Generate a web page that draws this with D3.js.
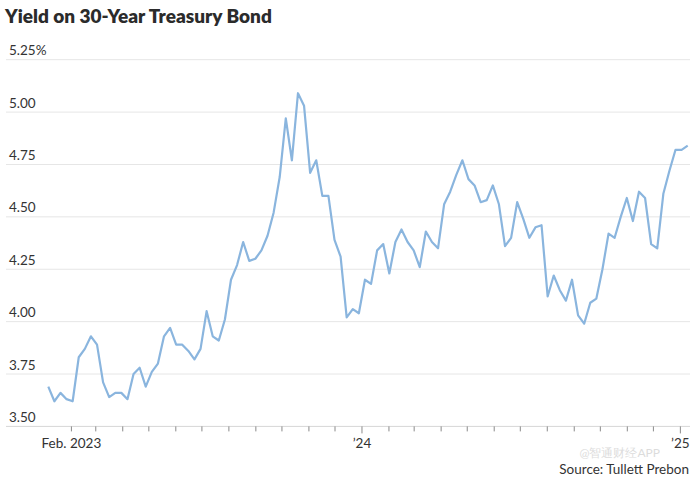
<!DOCTYPE html>
<html>
<head>
<meta charset="utf-8">
<script src="https://cdn.jsdelivr.net/npm/d3@7"></script>
<style>
  html, body { margin: 0; padding: 0; background: #fff; }
  svg { display: block; }
  text { font-family: Lato, "Open Sans", sans-serif; }
</style>
</head>
<body>
<svg id="chart" width="696" height="484"></svg>
<script>
// ---- DATA ----
const weeks = [
  "2023-01-06","2023-01-13","2023-01-20","2023-01-27",
  "2023-02-03","2023-02-10","2023-02-17","2023-02-24",
  "2023-03-03","2023-03-10","2023-03-17","2023-03-24","2023-03-31",
  "2023-04-07","2023-04-14","2023-04-21","2023-04-28",
  "2023-05-05","2023-05-12","2023-05-19","2023-05-26",
  "2023-06-02","2023-06-09","2023-06-16","2023-06-23","2023-06-30",
  "2023-07-07","2023-07-14","2023-07-21","2023-07-28",
  "2023-08-04","2023-08-11","2023-08-18","2023-08-25",
  "2023-09-01","2023-09-08","2023-09-15","2023-09-22","2023-09-29",
  "2023-10-06","2023-10-13","2023-10-20","2023-10-27",
  "2023-11-03","2023-11-10","2023-11-17","2023-11-24",
  "2023-12-01","2023-12-08","2023-12-15","2023-12-22","2023-12-29",
  "2024-01-05","2024-01-12","2024-01-19","2024-01-26",
  "2024-02-02","2024-02-09","2024-02-16","2024-02-23",
  "2024-03-01","2024-03-08","2024-03-15","2024-03-22","2024-03-29",
  "2024-04-05","2024-04-12","2024-04-19","2024-04-26",
  "2024-05-03","2024-05-10","2024-05-17","2024-05-24","2024-05-31",
  "2024-06-07","2024-06-14","2024-06-21","2024-06-28",
  "2024-07-05","2024-07-12","2024-07-19","2024-07-26",
  "2024-08-02","2024-08-09","2024-08-16","2024-08-23","2024-08-30",
  "2024-09-06","2024-09-13","2024-09-20","2024-09-27",
  "2024-10-04","2024-10-11","2024-10-18","2024-10-25",
  "2024-11-01","2024-11-08","2024-11-15","2024-11-22","2024-11-29",
  "2024-12-06","2024-12-13","2024-12-20","2024-12-27",
  "2025-01-03","2025-01-10"
];
const yields = [
  3.69,3.62,3.66,3.63,3.62,3.83,3.87,3.93,3.89,3.71,
  3.64,3.66,3.66,3.63,3.75,3.78,3.69,3.76,3.80,3.93,
  3.97,3.89,3.89,3.86,3.82,3.87,4.05,3.93,3.91,4.01,
  4.20,4.27,4.38,4.29,4.30,4.34,4.41,4.52,4.69,4.97,
  4.77,5.09,5.03,4.71,4.77,4.60,4.60,4.39,4.31,4.02,
  4.06,4.04,4.20,4.18,4.34,4.37,4.23,4.38,4.44,4.38,
  4.34,4.26,4.43,4.38,4.35,4.56,4.62,4.70,4.77,4.68,
  4.65,4.57,4.58,4.65,4.56,4.36,4.40,4.57,4.49,4.40,
  4.45,4.46,4.12,4.22,4.15,4.10,4.20,4.03,3.99,4.09,
  4.11,4.25,4.42,4.40,4.50,4.59,4.48,4.62,4.59,4.37,
  4.35,4.61,4.72,4.82,4.82,4.84
];
const yTicks = [3.5, 3.75, 4.0, 4.25, 4.5, 4.75, 5.0, 5.25];
const yTickLabels = ["3.50", "3.75", "4.00", "4.25", "4.50", "4.75", "5.00", "5.25%"];
const xLabelDates = ["2023-02-01", "2024-01-01", "2025-01-01"];
const xLabelTexts = ["Feb. 2023", "\u201924", "\u201925"];
const titleText = "Yield on 30-Year Treasury Bond";
const sourceText = "Source: Tullett Prebon";
const watermarkText = "@智通财经APP";

// ---- CHART ----
const svg = d3.select("#chart");
const parse = d3.utcParse("%Y-%m-%d");
const data = weeks.map((d, i) => ({ date: parse(d), value: yields[i] }));

const x = d3.scaleUtc()
  .domain([data[0].date, data[data.length - 1].date])
  .range([48.3, 687.7]);
const y = d3.scaleLinear().domain([3.5, 5.25]).range([426.4, 59.7]);

// title
const title = svg.append("text")
  .attr("x", 5).attr("y", 23)
  .attr("font-size", 17).attr("font-weight", 800)
  .attr("fill", "#2b2b2b")
  .text(titleText);
const tw = title.node().getComputedTextLength();
title.attr("font-size", 17 * 267 / tw);

// gridlines + y labels
const grid = svg.append("g");
grid.selectAll("line").data(yTicks).join("line")
  .attr("x1", 6).attr("x2", 690)
  .attr("y1", d => y(d)).attr("y2", d => y(d))
  .attr("stroke", d => d === 3.5 ? "#d6d6d6" : "#e6e6e6")
  .attr("stroke-width", 1);
grid.selectAll("text").data(yTicks).join("text")
  .attr("x", 9).attr("y", d => y(d) - 4.5)
  .attr("font-size", 13.5)
  .attr("fill", "#333")
  .text((d, i) => yTickLabels[i]);

// x axis (monthly ticks)
const months = d3.utcMonth.range(parse("2023-02-01"), parse("2025-02-01"));
const labelMap = new Map(xLabelDates.map((d, i) => [+parse(d), xLabelTexts[i]]));
const xAxis = d3.axisBottom(x)
  .tickValues(months)
  .tickSize(5)
  .tickSizeOuter(0)
  .tickFormat(d => labelMap.get(+d) || "");
const gx = svg.append("g")
  .attr("transform", `translate(0,${y(3.5)})`)
  .call(xAxis);
gx.select(".domain").remove();
gx.selectAll(".tick line")
  .attr("stroke", "#8a8a8a")
  .attr("y2", d => labelMap.has(+d) && d.getUTCMonth() === 0 ? 7 : 5);
gx.selectAll(".tick text")
  .attr("y", 12)
  .attr("font-size", 13.5)
  .attr("font-family", "Lato, 'Open Sans', sans-serif")
  .attr("fill", "#333");

// line
const line = d3.line().x(d => x(d.date)).y(d => y(d.value));
svg.append("path")
  .datum(data)
  .attr("d", line)
  .attr("fill", "none")
  .attr("stroke", "#8ab5de")
  .attr("stroke-width", 2.2)
  .attr("stroke-linejoin", "round");

// source
svg.append("text")
  .attr("x", 689).attr("y", 474)
  .attr("text-anchor", "end")
  .attr("font-size", 13.5)
  .attr("fill", "#333")
  .text(sourceText);

// watermark (kept faint, clear of the other texts)
svg.append("text")
  .attr("x", 660).attr("y", 457)
  .attr("text-anchor", "end")
  .attr("font-size", 12)
  .attr("font-family", "'Noto Sans CJK SC', sans-serif")
  .attr("fill", "#bbb")
  .attr("opacity", 0.5)
  .text(watermarkText);
</script>
</body>
</html>
